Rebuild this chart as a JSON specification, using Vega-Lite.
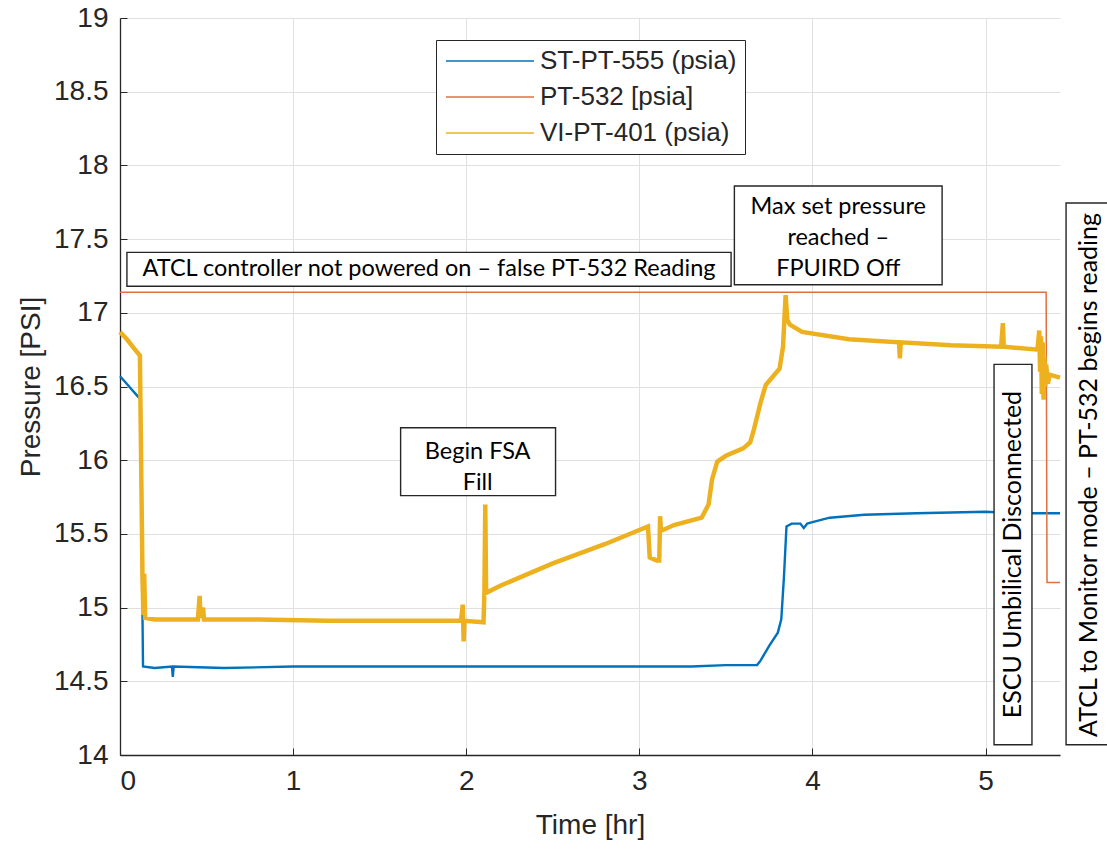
{
  "$schema": "https://vega.github.io/schema/vega-lite/v6.json",
  "width": 940,
  "height": 737,
  "autosize": {"type": "none"},
  "padding": {"left": 120, "top": 18, "right": 47, "bottom": 95},
  "background": "white",
  "config": {
    "view": {"stroke": null},
    "font": "Liberation Sans",
    "axis": {
      "domainColor": "#262626",
      "domainWidth": 1.3,
      "tickColor": "#262626",
      "tickSize": -7,
      "labelFontSize": 28,
      "labelColor": "#262626",
      "labelFont": "Liberation Sans",
      "gridColor": "#e0e0e0",
      "gridWidth": 1,
      "titleFontSize": 28,
      "titleFont": "Liberation Sans",
      "titleFontWeight": "normal",
      "titleColor": "#262626"
    },
    "legend": {
      "orient": "none",
      "legendX": 316,
      "legendY": 22,
      "symbolType": "M-1,0H7",
      "symbolSize": 484,
      "symbolStrokeWidth": 1.5,
      "labelFontSize": 26,
      "labelFont": "Liberation Sans",
      "labelColor": "#262626",
      "labelLimit": 0,
      "labelOffset": 70,
      "strokeColor": "#262626",
      "fillColor": "white",
      "padding": 8,
      "rowPadding": 10
    }
  },
  "datasets": {
    "pressure": [
      {"series": "ST-PT-555 (psia)", "t": 0, "p": 16.57},
      {"series": "ST-PT-555 (psia)", "t": 0.03, "p": 16.53},
      {"series": "ST-PT-555 (psia)", "t": 0.06, "p": 16.49},
      {"series": "ST-PT-555 (psia)", "t": 0.09, "p": 16.45},
      {"series": "ST-PT-555 (psia)", "t": 0.12, "p": 16.41},
      {"series": "ST-PT-555 (psia)", "t": 0.125, "p": 15.5},
      {"series": "ST-PT-555 (psia)", "t": 0.133, "p": 14.6},
      {"series": "ST-PT-555 (psia)", "t": 0.2, "p": 14.59},
      {"series": "ST-PT-555 (psia)", "t": 0.3, "p": 14.6},
      {"series": "ST-PT-555 (psia)", "t": 0.305, "p": 14.53},
      {"series": "ST-PT-555 (psia)", "t": 0.31, "p": 14.6},
      {"series": "ST-PT-555 (psia)", "t": 0.6, "p": 14.59},
      {"series": "ST-PT-555 (psia)", "t": 1.0, "p": 14.6},
      {"series": "ST-PT-555 (psia)", "t": 1.5, "p": 14.6},
      {"series": "ST-PT-555 (psia)", "t": 2.0, "p": 14.6},
      {"series": "ST-PT-555 (psia)", "t": 2.5, "p": 14.6},
      {"series": "ST-PT-555 (psia)", "t": 3.0, "p": 14.6},
      {"series": "ST-PT-555 (psia)", "t": 3.3, "p": 14.6},
      {"series": "ST-PT-555 (psia)", "t": 3.5, "p": 14.61},
      {"series": "ST-PT-555 (psia)", "t": 3.68, "p": 14.61},
      {"series": "ST-PT-555 (psia)", "t": 3.7, "p": 14.64},
      {"series": "ST-PT-555 (psia)", "t": 3.75, "p": 14.74},
      {"series": "ST-PT-555 (psia)", "t": 3.8, "p": 14.83},
      {"series": "ST-PT-555 (psia)", "t": 3.82, "p": 14.92},
      {"series": "ST-PT-555 (psia)", "t": 3.835, "p": 15.2},
      {"series": "ST-PT-555 (psia)", "t": 3.85, "p": 15.55},
      {"series": "ST-PT-555 (psia)", "t": 3.88, "p": 15.57},
      {"series": "ST-PT-555 (psia)", "t": 3.93, "p": 15.57},
      {"series": "ST-PT-555 (psia)", "t": 3.95, "p": 15.54},
      {"series": "ST-PT-555 (psia)", "t": 3.97, "p": 15.57},
      {"series": "ST-PT-555 (psia)", "t": 4.0, "p": 15.58},
      {"series": "ST-PT-555 (psia)", "t": 4.1, "p": 15.61},
      {"series": "ST-PT-555 (psia)", "t": 4.3, "p": 15.63},
      {"series": "ST-PT-555 (psia)", "t": 4.6, "p": 15.64},
      {"series": "ST-PT-555 (psia)", "t": 5.0, "p": 15.65},
      {"series": "ST-PT-555 (psia)", "t": 5.2, "p": 15.64},
      {"series": "ST-PT-555 (psia)", "t": 5.43, "p": 15.64},
      {"series": "PT-532 [psia]", "t": 0, "p": 17.14},
      {"series": "PT-532 [psia]", "t": 5.35, "p": 17.14},
      {"series": "PT-532 [psia]", "t": 5.355, "p": 15.17},
      {"series": "PT-532 [psia]", "t": 5.43, "p": 15.17},
      {"series": "VI-PT-401 (psia)", "t": 0, "p": 16.87},
      {"series": "VI-PT-401 (psia)", "t": 0.04, "p": 16.82},
      {"series": "VI-PT-401 (psia)", "t": 0.08, "p": 16.76},
      {"series": "VI-PT-401 (psia)", "t": 0.115, "p": 16.71},
      {"series": "VI-PT-401 (psia)", "t": 0.12, "p": 16.2},
      {"series": "VI-PT-401 (psia)", "t": 0.13, "p": 15.2},
      {"series": "VI-PT-401 (psia)", "t": 0.135, "p": 14.95},
      {"series": "VI-PT-401 (psia)", "t": 0.14, "p": 15.23},
      {"series": "VI-PT-401 (psia)", "t": 0.145, "p": 14.93},
      {"series": "VI-PT-401 (psia)", "t": 0.2, "p": 14.92},
      {"series": "VI-PT-401 (psia)", "t": 0.45, "p": 14.92},
      {"series": "VI-PT-401 (psia)", "t": 0.46, "p": 15.08},
      {"series": "VI-PT-401 (psia)", "t": 0.465, "p": 14.93},
      {"series": "VI-PT-401 (psia)", "t": 0.48, "p": 15.0},
      {"series": "VI-PT-401 (psia)", "t": 0.485, "p": 14.92},
      {"series": "VI-PT-401 (psia)", "t": 0.8, "p": 14.92},
      {"series": "VI-PT-401 (psia)", "t": 1.2, "p": 14.91},
      {"series": "VI-PT-401 (psia)", "t": 1.6, "p": 14.91},
      {"series": "VI-PT-401 (psia)", "t": 1.97, "p": 14.91},
      {"series": "VI-PT-401 (psia)", "t": 1.98, "p": 15.02},
      {"series": "VI-PT-401 (psia)", "t": 1.985, "p": 14.77},
      {"series": "VI-PT-401 (psia)", "t": 1.99, "p": 14.91},
      {"series": "VI-PT-401 (psia)", "t": 2.1, "p": 14.9},
      {"series": "VI-PT-401 (psia)", "t": 2.105, "p": 15.1},
      {"series": "VI-PT-401 (psia)", "t": 2.11, "p": 15.7},
      {"series": "VI-PT-401 (psia)", "t": 2.115, "p": 15.1},
      {"series": "VI-PT-401 (psia)", "t": 2.2, "p": 15.15},
      {"series": "VI-PT-401 (psia)", "t": 2.5, "p": 15.3},
      {"series": "VI-PT-401 (psia)", "t": 2.8, "p": 15.43},
      {"series": "VI-PT-401 (psia)", "t": 3.05, "p": 15.55},
      {"series": "VI-PT-401 (psia)", "t": 3.06, "p": 15.34},
      {"series": "VI-PT-401 (psia)", "t": 3.1, "p": 15.32},
      {"series": "VI-PT-401 (psia)", "t": 3.115, "p": 15.32},
      {"series": "VI-PT-401 (psia)", "t": 3.12, "p": 15.62},
      {"series": "VI-PT-401 (psia)", "t": 3.125, "p": 15.52},
      {"series": "VI-PT-401 (psia)", "t": 3.2, "p": 15.56},
      {"series": "VI-PT-401 (psia)", "t": 3.36, "p": 15.61},
      {"series": "VI-PT-401 (psia)", "t": 3.4, "p": 15.7},
      {"series": "VI-PT-401 (psia)", "t": 3.42, "p": 15.87},
      {"series": "VI-PT-401 (psia)", "t": 3.45, "p": 15.99},
      {"series": "VI-PT-401 (psia)", "t": 3.5, "p": 16.03},
      {"series": "VI-PT-401 (psia)", "t": 3.6, "p": 16.08},
      {"series": "VI-PT-401 (psia)", "t": 3.64, "p": 16.12},
      {"series": "VI-PT-401 (psia)", "t": 3.66, "p": 16.2},
      {"series": "VI-PT-401 (psia)", "t": 3.7, "p": 16.39},
      {"series": "VI-PT-401 (psia)", "t": 3.73, "p": 16.51},
      {"series": "VI-PT-401 (psia)", "t": 3.78, "p": 16.58},
      {"series": "VI-PT-401 (psia)", "t": 3.81, "p": 16.62},
      {"series": "VI-PT-401 (psia)", "t": 3.83, "p": 16.77},
      {"series": "VI-PT-401 (psia)", "t": 3.845, "p": 17.12},
      {"series": "VI-PT-401 (psia)", "t": 3.855, "p": 16.95},
      {"series": "VI-PT-401 (psia)", "t": 3.87, "p": 16.92},
      {"series": "VI-PT-401 (psia)", "t": 3.94, "p": 16.87},
      {"series": "VI-PT-401 (psia)", "t": 4.21, "p": 16.82},
      {"series": "VI-PT-401 (psia)", "t": 4.5, "p": 16.8},
      {"series": "VI-PT-401 (psia)", "t": 4.505, "p": 16.69},
      {"series": "VI-PT-401 (psia)", "t": 4.51, "p": 16.8},
      {"series": "VI-PT-401 (psia)", "t": 4.8, "p": 16.78},
      {"series": "VI-PT-401 (psia)", "t": 5.09, "p": 16.77},
      {"series": "VI-PT-401 (psia)", "t": 5.1, "p": 16.93},
      {"series": "VI-PT-401 (psia)", "t": 5.105, "p": 16.77},
      {"series": "VI-PT-401 (psia)", "t": 5.3, "p": 16.75},
      {"series": "VI-PT-401 (psia)", "t": 5.31, "p": 16.88},
      {"series": "VI-PT-401 (psia)", "t": 5.315, "p": 16.6},
      {"series": "VI-PT-401 (psia)", "t": 5.32, "p": 16.84},
      {"series": "VI-PT-401 (psia)", "t": 5.325, "p": 16.45},
      {"series": "VI-PT-401 (psia)", "t": 5.33, "p": 16.8},
      {"series": "VI-PT-401 (psia)", "t": 5.335, "p": 16.41},
      {"series": "VI-PT-401 (psia)", "t": 5.34, "p": 16.7},
      {"series": "VI-PT-401 (psia)", "t": 5.345, "p": 16.5},
      {"series": "VI-PT-401 (psia)", "t": 5.35, "p": 16.65},
      {"series": "VI-PT-401 (psia)", "t": 5.36, "p": 16.52},
      {"series": "VI-PT-401 (psia)", "t": 5.37, "p": 16.58},
      {"series": "VI-PT-401 (psia)", "t": 5.43, "p": 16.56}
    ],
    "boxes_h": [
      {"name": "atcl", "t1": 0.04, "t2": 3.53, "p1": 17.18, "p2": 17.41, "tc": 1.785, "pc": 17.295, "label": "ATCL controller not powered on – false PT-532 Reading"},
      {"name": "max", "t1": 3.549, "t2": 4.749, "p1": 17.19, "p2": 17.86, "tc": 4.149, "pc": 17.72, "label": "Max set pressure\nreached –\nFPUIRD Off"},
      {"name": "fsa", "t1": 1.621, "t2": 2.516, "p1": 15.76, "p2": 16.22, "tc": 2.066, "pc": 16.055, "label": "Begin FSA\nFill"}
    ],
    "boxes_v": [
      {"name": "escu", "t1": 5.049, "t2": 5.268, "p1": 14.07, "p2": 16.65, "tc": 5.159, "pc": 15.36, "label": "ESCU Umbilical Disconnected"},
      {"name": "monitor", "t1": 5.465, "t2": 5.8, "p1": 14.07, "p2": 17.745, "tc": 5.6, "pc": 15.9, "label": "ATCL to Monitor mode – PT-532 begins reading"}
    ]
  },
  "encoding": {
    "x": {
      "field": "t", "type": "quantitative", "title": "Time [hr]",
      "scale": {"domain": [0, 5.43], "nice": false, "zero": false},
      "axis": {"values": [0, 1, 2, 3, 4, 5], "format": "d", "grid": true, "labelFontSize": 28, "labelPadding": 19, "titlePadding": 16}
    },
    "y": {
      "field": "p", "type": "quantitative", "title": "Pressure [PSI]",
      "scale": {"domain": [14, 19], "nice": false, "zero": false},
      "axis": {"values": [14, 14.5, 15, 15.5, 16, 16.5, 17, 17.5, 18, 18.5, 19], "format": "~g", "grid": true, "labelFontSize": 28, "labelPadding": 19, "titlePadding": 8}
    }
  },
  "layer": [
    {
      "data": {"name": "pressure"},
      "transform": [{"filter": "datum.series === 'ST-PT-555 (psia)'"}],
      "mark": {"type": "line", "strokeWidth": 2.4},
      "encoding": {
        "color": {
          "field": "series", "type": "nominal",
          "scale": {"domain": ["ST-PT-555 (psia)", "PT-532 [psia]", "VI-PT-401 (psia)"], "range": ["#0072BD", "#E07040", "#EDB120"]},
          "legend": {"title": null}
        }
      }
    },
    {
      "data": {"name": "pressure"},
      "transform": [{"filter": "datum.series === 'PT-532 [psia]'"}],
      "mark": {"type": "line", "strokeWidth": 1.5},
      "encoding": {
        "color": {"field": "series", "type": "nominal"}
      }
    },
    {
      "data": {"name": "pressure"},
      "transform": [{"filter": "datum.series === 'VI-PT-401 (psia)'"}],
      "mark": {"type": "line", "strokeWidth": 4.5},
      "encoding": {
        "color": {"field": "series", "type": "nominal"}
      }
    },
    {
      "data": {"name": "boxes_h"},
      "mark": {"type": "rect", "fill": "white", "stroke": "#262626", "strokeWidth": 1.4, "clip": false},
      "encoding": {
        "x": {"field": "t1", "type": "quantitative", "title": "Time [hr]"},
        "x2": {"field": "t2"},
        "y": {"field": "p1", "type": "quantitative", "title": "Pressure [PSI]"},
        "y2": {"field": "p2"}
      }
    },
    {
      "data": {"name": "boxes_v"},
      "mark": {"type": "rect", "fill": "white", "stroke": "#262626", "strokeWidth": 1.4, "clip": false},
      "encoding": {
        "x": {"field": "t1", "type": "quantitative", "title": "Time [hr]"},
        "x2": {"field": "t2"},
        "y": {"field": "p1", "type": "quantitative", "title": "Pressure [PSI]"},
        "y2": {"field": "p2"}
      }
    },
    {
      "data": {"name": "boxes_h"},
      "mark": {"type": "text", "font": "Lato", "fontSize": 23.5, "color": "#000000", "align": "center", "baseline": "middle", "lineBreak": "\n", "lineHeight": 31},
      "encoding": {
        "x": {"field": "tc", "type": "quantitative", "title": "Time [hr]"},
        "y": {"field": "pc", "type": "quantitative", "title": "Pressure [PSI]"},
        "text": {"field": "label", "type": "nominal"}
      }
    },
    {
      "data": {"name": "boxes_v"},
      "mark": {"type": "text", "font": "Lato", "fontSize": 25, "color": "#000000", "align": "center", "baseline": "middle", "angle": 270},
      "encoding": {
        "x": {"field": "tc", "type": "quantitative", "title": "Time [hr]"},
        "y": {"field": "pc", "type": "quantitative", "title": "Pressure [PSI]"},
        "text": {"field": "label", "type": "nominal"}
      }
    }
  ]
}
